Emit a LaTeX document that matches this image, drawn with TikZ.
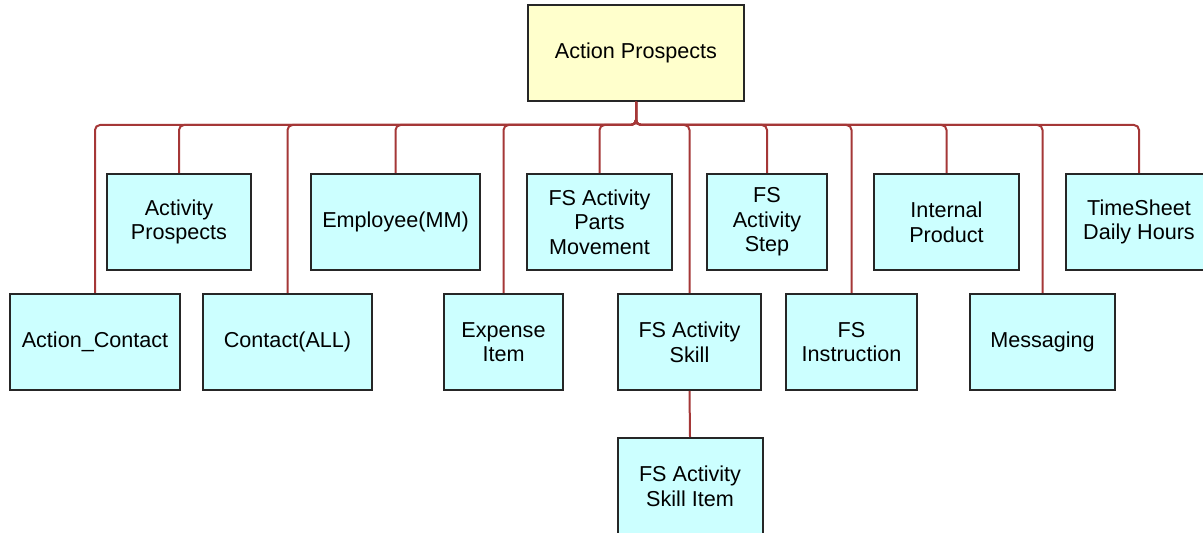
\documentclass[tikz,border=0pt]{standalone}
\usepackage{fontspec}
\setmainfont{Liberation Sans}
\definecolor{boxcyan}{RGB}{204,255,255}
\definecolor{rootyellow}{RGB}{255,255,204}
\definecolor{linkred}{RGB}{165,55,55}
\begin{document}
\begin{tikzpicture}[x=0.5pt,y=-0.5pt,
  box/.style={draw=black!85,line width=1pt,fill=boxcyan,align=center,inner sep=0pt,minimum height=48pt,font=\fontsize{10.8}{12.3}\selectfont},
  rootbox/.style={box,fill=rootyellow},
  link/.style={draw=linkred,line width=1pt,rounded corners=2.5pt}]
\useasboundingbox (0,0) rectangle (1203,533);
\node[rootbox,minimum width=108pt] (root) at (636,53) {Action Prospects};
\coordinate (bus) at (636,125);
\node[box,minimum width=72pt] (actprospects) at (179,222) {Activity\\Prospects};
\node[box,minimum width=84.5pt] (employee) at (395.5,222) {Employee(MM)};
\node[box,minimum width=72.5pt] (partsmove) at (599.5,222) {FS Activity\\Parts\\Movement};
\node[box,minimum width=60pt] (step) at (767,222) {FS\\Activity\\Step};
\node[box,minimum width=72.5pt] (internal) at (946.5,222) {Internal\\Product};
\node[box,minimum width=73pt] (timesheet) at (1139,222) {TimeSheet\\Daily Hours};
\node[box,minimum width=85pt] (actcontact) at (95,342) {Action\_Contact};
\node[box,minimum width=84.5pt] (contactall) at (287.5,342) {Contact(ALL)};
\node[box,minimum width=59.5pt] (expense) at (503.5,342) {Expense\\Item};
\node[box,minimum width=71.5pt] (skill) at (689.5,342) {FS Activity\\Skill};
\node[box,minimum width=65.5pt] (instruction) at (851.5,342) {FS\\Instruction};
\node[box,minimum width=72.5pt] (messaging) at (1042.5,342) {Messaging};
\node[box,minimum width=72.5pt] (skillitem) at (690,486) {FS Activity\\Skill Item};
\foreach \n in {actcontact,actprospects,contactall,employee,expense,partsmove,skill,step,instruction,internal,messaging,timesheet}
  \draw[link] (root.south) -- (root.south |- bus) -| (\n.north);
\draw[link] (skill.south) -- (skillitem.north);
\end{tikzpicture}
\end{document}
